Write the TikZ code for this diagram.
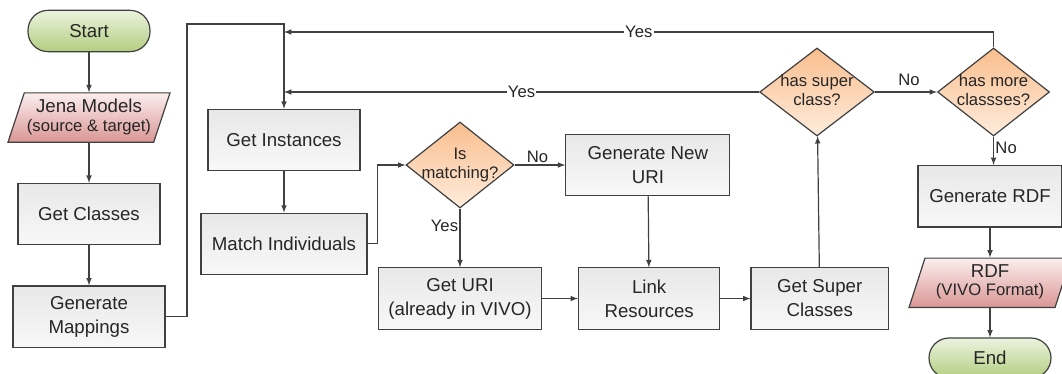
\documentclass[tikz,border=0pt]{standalone}
\usepackage{fontspec}
\setmainfont{Liberation Sans}
\usepackage{tikz}
\usetikzlibrary{shapes,arrows,positioning,calc}

\definecolor{linegray}{RGB}{64,64,64}
\definecolor{boxtop}{RGB}{232,232,232}
\definecolor{boxbot}{RGB}{248,248,248}
\definecolor{termtop}{RGB}{236,243,222}
\definecolor{termbot}{RGB}{178,206,128}
\definecolor{iotop}{RGB}{251,238,238}
\definecolor{iobot}{RGB}{217,150,148}
\definecolor{dectop}{RGB}{249,190,142}
\definecolor{decbot}{RGB}{254,236,220}

\newcommand{\boxfont}{\fontsize{14}{18}\selectfont}
\newcommand{\smallfont}{\fontsize{12.5}{14}\selectfont}
\newcommand{\zerow}[1]{\makebox[0pt]{\begin{tabular}{@{}c@{}}#1\end{tabular}}}

\begin{document}
\begin{tikzpicture}[x=0.75pt, y=0.75pt,
    box/.style={rectangle, draw=linegray, line width=0.9pt, top color=boxtop, bottom color=boxbot, text=black!85, align=center, minimum height=46pt, inner sep=2pt, font=\boxfont},
    term/.style={rectangle, rounded corners=15pt, draw=linegray, line width=0.9pt, top color=termtop, bottom color=termbot, text=black!85, minimum width=91.5pt, minimum height=31pt, font=\boxfont},
    io/.style={trapezium, trapezium left angle=66, trapezium right angle=114, trapezium stretches body=true, draw=linegray, line width=0.9pt, top color=iotop, bottom color=iobot, text=black!85, minimum width=121.5pt, minimum height=37pt, inner sep=0pt},
    decision/.style={diamond, draw=linegray, line width=0.9pt, top color=dectop, bottom color=decbot, text=black!85, inner sep=0pt, font=\smallfont},
    arrow/.style={line width=0.9pt, draw=linegray, ->, >=latex},
    line/.style={line width=0.9pt, draw=linegray},
    lbl/.style={font=\smallfont, text=black!85, inner sep=1pt}
]
\useasboundingbox (0,0) rectangle (1062,-374);

% Left column
\node [term] (start) at (89,-31) {Start};
\node [io, below=30pt of start] (jena) {\zerow{{\boxfont Jena Models}\\[1pt]{\smallfont (source \& target)}}};
\node [box, minimum width=106.5pt, below=30pt of jena] (getcls) {Get Classes};
\node [box, minimum width=114pt, below=30pt of getcls] (genmap) {Generate\\Mappings};

% Instances
\node [box, minimum width=114pt] (getinst) at (284,-140) {Get Instances};
\node [box, minimum width=124.5pt, below=31pt of getinst] (matchind) {Match Individuals};

% Matching
\node [decision, minimum width=81pt, minimum height=64.5pt] (ismatch) at (460,-165) {\zerow{Is\\matching?}};
\node [box, minimum width=123pt, right=38pt of ismatch] (newuri) {Generate New\\URI};
\node [box, minimum width=122pt, below=44pt of ismatch] (geturi) {Get URI\\(already in VIVO)};
\node [box, minimum width=106pt, right=27pt of geturi] (linkres) {Link\\Resources};
\node [box, minimum width=103pt, right=22.5pt of linkres] (getsuper) {Get Super\\Classes};

% Class loop
\node [decision, minimum width=86pt, minimum height=66pt] (hassuper) at (817,-92) {\zerow{has super\\class?}};
\node [decision, minimum width=84pt, minimum height=66pt, right=46.5pt of hassuper] (hasmore) {\zerow{has more\\classses?}};

% Output
\node [box, minimum width=108pt, anchor=north] (genrdf) at (990,-165) {Generate RDF};
\node [io, below=22.5pt of genrdf] (rdf) {\zerow{{\boxfont RDF}\\[1pt]{\smallfont (VIVO Format)}}};
\node [term, minimum height=30pt, below=22pt of rdf] (end) {End};

\coordinate (bend) at (187,-24);
\coordinate (yestop) at (284,-32);

% Arrows
\draw [arrow] (start) -- (jena);
\draw [arrow] (jena) -- (getcls);
\draw [arrow] (getcls) -- (genmap);
\draw [arrow] (genmap.east) -| (bend) -| (getinst.north);
\draw [arrow] (getinst) -- (matchind);
\draw [arrow] (matchind.east) -- ++(10,0) |- (ismatch.west);
\draw [arrow] (ismatch.east) -- node[lbl, above, pos=0.45] {No} (newuri.west);
\draw [arrow] (ismatch.south) -- node[lbl, left, pos=0.3] {Yes} (geturi.north);
\draw [arrow] (newuri) -- (linkres);
\draw [arrow] (geturi) -- (linkres);
\draw [arrow] (linkres) -- (getsuper);
\draw [arrow] (getsuper) -- (hassuper);
\draw [arrow] (hassuper.east) -- node[lbl, above=3pt, pos=0.55] {No} (hasmore.west);
\draw [arrow] (hasmore.south) -- node[lbl, right, pos=0.4] {No} (genrdf.north -| hasmore.south);
\draw [arrow] (hassuper.west) -- node[lbl, fill=white, pos=0.5] {Yes} (hassuper.west -| getinst.north);
\draw [arrow] (hasmore.north) |- node[lbl, fill=white, pos=0.75] {Yes} (yestop);
\draw [arrow] (genrdf.south -| rdf.north) -- (rdf);
\draw [arrow] (rdf) -- (end);

\end{tikzpicture}
\end{document}
